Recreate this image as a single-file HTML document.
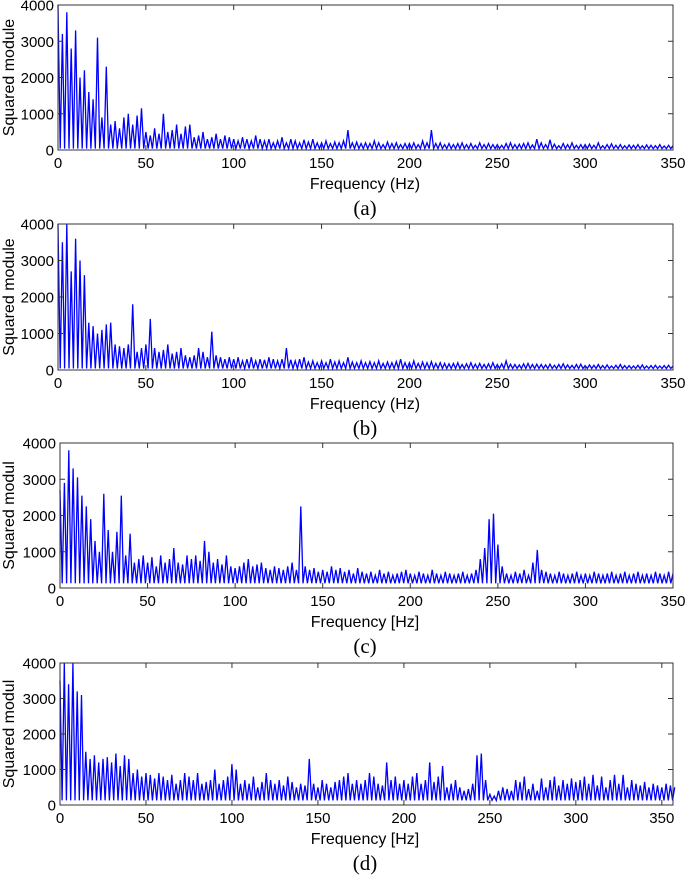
<!DOCTYPE html>
<html><head><meta charset="utf-8">
<style>
html,body{margin:0;padding:0;background:#fff;}
svg{display:block;}
text{font-family:"Liberation Sans",Arial,sans-serif;fill:#000;}
</style></head>
<body>
<svg id="chart" width="685" height="876" viewBox="0 0 685 876" xmlns="http://www.w3.org/2000/svg"></svg>
<script>
const yTicks=[0,1000,2000,3000,4000];
const xTicks=[0,50,100,150,200,250,300,350];
const freqStep=2.5;
const captions=["(a)","(b)","(c)","(d)"];
const yTitles=["Squared module","Squared module","Squared modul","Squared modul"];
const xTitles=["Frequency (Hz)","Frequency (Hz)","Frequency [Hz]","Frequency [Hz]"];
const xMaxes=[350,350,350,356.5];
const floors=[40,40,130,130];
const seriesA=[4000,3200,3800,2800,3300,2000,2200,1600,1400,3100,
900,2300,700,800,600,900,1000,700,950,1150,
500,400,600,450,1000,500,550,700,450,650,
700,350,400,500,300,350,450,300,400,350,
300,250,350,300,250,400,300,250,300,200,
250,350,200,300,250,200,280,220,300,200,
200,250,180,220,200,250,550,200,220,180,
200,180,250,200,150,220,180,200,150,180,
180,200,150,250,200,550,180,200,150,180,
150,180,200,150,180,130,200,150,180,150,
150,130,180,200,150,160,180,200,140,300,
200,150,280,160,120,180,150,200,130,150,
150,160,130,200,120,150,170,130,150,120,
140,130,150,120,140,130,120,150,110,130,120];
const seriesB=[4000,3500,4000,2700,3600,3000,2600,1300,1200,1000,
1100,1250,1300,700,650,600,700,1800,500,600,
700,1400,600,500,550,700,450,500,600,400,
350,400,600,500,350,1050,400,350,300,350,
300,350,250,300,350,250,300,280,350,300,
250,300,600,280,250,300,350,220,250,200,
250,200,300,220,250,200,350,220,200,250,
200,230,200,250,180,220,200,230,300,200,
200,250,180,220,200,230,180,200,180,170,
180,200,150,170,200,160,180,150,170,200,
150,170,250,160,150,140,170,180,150,160,
150,140,160,130,150,170,140,130,150,160,
120,140,130,150,120,140,110,130,150,120,
120,110,130,140,110,120,130,110,120,130,110];
const seriesC=[2700,2900,3800,3300,3050,2550,2250,1900,1300,1000,
2600,1600,1000,1550,2550,900,1500,700,800,900,
700,850,600,900,700,800,1100,700,650,900,
800,900,750,1300,1000,700,800,650,900,600,
550,600,700,800,600,650,700,550,500,600,
550,500,600,700,500,2250,600,500,550,450,
500,450,600,500,550,450,500,400,550,450,
400,450,350,500,400,450,350,400,450,500,
400,350,450,400,350,500,400,350,450,400,
350,400,450,350,400,500,800,1100,1900,2050,
1200,600,400,350,450,400,500,350,700,1050,
500,450,400,350,450,400,350,400,450,350,
400,350,450,400,350,400,450,350,400,450,
350,400,450,350,400,350,450,400,350,450,400];
const seriesD=[3500,4000,3400,4000,3200,3100,1500,1300,1400,1200,
1300,1350,1200,1450,1100,1400,1300,900,1000,800,
900,850,750,900,800,700,850,600,700,900,
800,700,900,600,650,700,1000,600,700,800,
1150,1000,600,700,600,800,500,650,900,700,
600,700,550,800,650,500,600,550,1300,600,
500,700,600,500,650,700,800,900,600,700,
600,700,900,800,600,550,1200,700,800,600,
700,600,800,900,600,700,1200,650,800,1100,
500,600,700,500,400,450,600,1400,1450,700,
300,250,400,500,450,400,700,650,800,450,
600,400,750,500,700,800,550,700,600,750,
650,700,800,600,850,550,800,500,700,850,
600,850,500,700,600,550,650,500,600,550,
500,600,550,500];
const allSeries=[seriesA,seriesB,seriesC,seriesD];
const panels=[{x0:58,x1:673,top:5,bot:150},{x0:58,x1:673,top:224,bot:370},{x0:60,x1:673,top:443,bot:588},{x0:60,x1:673,top:663,bot:805}];
const NS="http://www.w3.org/2000/svg";
const svg=document.getElementById('chart');
function mk(tag,attrs,parent){const e=document.createElementNS(NS,tag);for(const k in attrs)e.setAttribute(k,attrs[k]);(parent||svg).appendChild(e);return e;}
panels.forEach((p,pi)=>{
  const letter="abcd"[pi];
  const g=mk('g',{});
  
  
  const xs=v=>p.x0+(v/xMaxes[pi])*(p.x1-p.x0);
  const ys=v=>p.bot-(Math.min(v,4000)/4000)*(p.bot-p.top);
  const data=allSeries[pi];
  let d='';
  data.forEach((v,i)=>{
    const f=i*freqStep;
    d+=(i===0?'M':'L')+xs(f).toFixed(1)+','+ys(v).toFixed(1);
    const fm=f+freqStep/2;
    if(i<data.length-1) d+='L'+xs(fm).toFixed(1)+','+ys(floors[pi]).toFixed(1);
  });
  const line=mk('path',{d:d,fill:'none',stroke:'#0000ff','stroke-width':'1.3','stroke-linejoin':'miter'},g);
  
  
  const box=mk('rect',{x:p.x0,y:p.top,width:p.x1-p.x0,height:p.bot-p.top,fill:'none',stroke:'#333','stroke-width':'1'},g);
  
  
  yTicks.forEach(t=>{
    const y=ys(t);
    mk('line',{x1:p.x0,x2:p.x0+5,y1:y,y2:y,stroke:'#333'},g);
    mk('line',{x1:p.x1,x2:p.x1-5,y1:y,y2:y,stroke:'#333'},g);
    const tx=mk('text',{x:p.x0-4,y:y+5.5,'text-anchor':'end','font-size':'15'},g);
    tx.textContent=t;
    
    
  });
  xTicks.forEach(t=>{
    const x=xs(t);
    mk('line',{x1:x,x2:x,y1:p.bot,y2:p.bot-5,stroke:'#333'},g);
    mk('line',{x1:x,x2:x,y1:p.top,y2:p.top+5,stroke:'#333'},g);
    const tx=mk('text',{x:x,y:p.bot+18,'text-anchor':'middle','font-size':'15'},g);
    tx.textContent=t;
    
    
  });
  const xt=mk('text',{x:365,y:p.bot+39,'text-anchor':'middle','font-size':'16'},g);
  xt.textContent=xTitles[pi];
  
  
  const cy=(p.top+p.bot)/2;
  const yt=mk('text',{x:0,y:0,'text-anchor':'middle','font-size':'16',transform:'translate(14,'+cy+') rotate(-90)'},g);
  yt.textContent=yTitles[pi];
  
  
  const cap=mk('text',{x:365,y:p.bot+65,'text-anchor':'middle','font-size':'21',style:'font-family:"Liberation Serif",serif'},g);
  cap.textContent=captions[pi];
  
  
});
</script>
</body></html>
